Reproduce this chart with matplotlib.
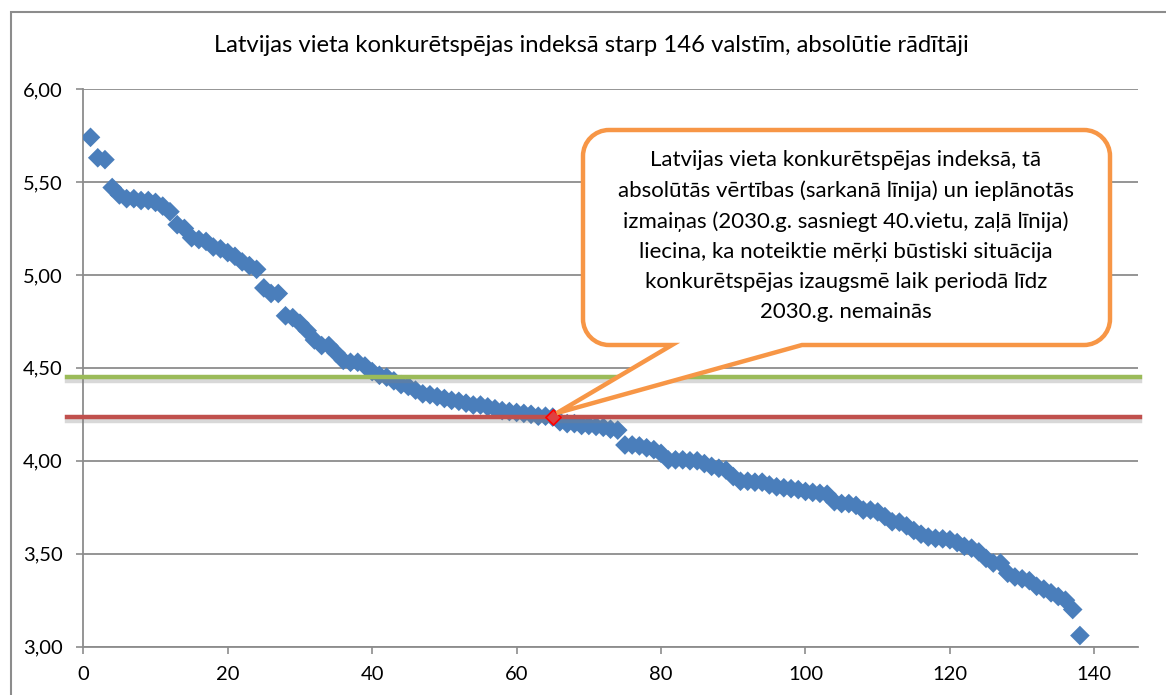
import matplotlib
matplotlib.use("Agg")
import matplotlib.pyplot as plt
import matplotlib.patheffects as pe
from matplotlib.path import Path
from matplotlib.patches import PathPatch, Rectangle
from matplotlib.transforms import IdentityTransform
from matplotlib.ticker import FuncFormatter
import numpy as np

plt.rcParams["font.family"] = ["Lato", "DejaVu Sans"]

# index values of countries, sorted (rank 1..138)
ranks = list(range(1, 139))
index_values = [
    5.74, 5.63, 5.62, 5.47, 5.43, 5.41, 5.41, 5.40, 5.40, 5.39,
    5.37, 5.34, 5.27, 5.25, 5.20, 5.19, 5.18, 5.15, 5.14, 5.12,
    5.10, 5.07, 5.05, 5.03, 4.93, 4.90, 4.90, 4.78, 4.77, 4.74,
    4.70, 4.65, 4.62, 4.62, 4.58, 4.54, 4.53, 4.53, 4.51, 4.48,
    4.46, 4.45, 4.43, 4.41, 4.40, 4.38, 4.36, 4.355, 4.345, 4.335,
    4.325, 4.32, 4.31, 4.30, 4.30, 4.29, 4.28, 4.27, 4.265, 4.26,
    4.255, 4.25, 4.24, 4.24, 4.235, 4.21, 4.20, 4.20, 4.19, 4.19,
    4.185, 4.18, 4.17, 4.165, 4.085, 4.085, 4.08, 4.07, 4.06, 4.04,
    4.005, 4.005, 4.005, 4.00, 4.00, 3.985, 3.97, 3.96, 3.95, 3.915,
    3.89, 3.89, 3.885, 3.885, 3.87, 3.86, 3.855, 3.85, 3.845, 3.835,
    3.83, 3.825, 3.82, 3.78, 3.77, 3.77, 3.76, 3.735, 3.735, 3.725,
    3.70, 3.672, 3.67, 3.65, 3.625, 3.605, 3.59, 3.583, 3.58, 3.575,
    3.56, 3.54, 3.53, 3.51, 3.475, 3.45, 3.45, 3.395, 3.375, 3.365,
    3.355, 3.325, 3.31, 3.29, 3.27, 3.25, 3.20, 3.06,
]
latvia_rank = 65
latvia_value = 4.235   # red line
target_value = 4.45    # green line (40th place in 2030)

title = "Latvijas vieta konkurētspējas indeksā starp 146 valstīm, absolūtie rādītāji"
note = ("Latvijas vieta konkurētspējas indeksā, tā\n"
        "absolūtās vērtības (sarkanā līnija) un ieplānotās\n"
        "izmaiņas (2030.g. sasniegt 40.vietu, zaļā līnija)\n"
        "liecina, ka noteiktie mērķi būstiski situācija\n"
        "konkurētspējas izaugsmē laik periodā līdz\n"
        "2030.g. nemainās")

W, H = 1166, 695
fig = plt.figure(figsize=(W / 100, H / 100), dpi=100)
ax = fig.add_axes([83.3 / W, 1 - 646.7 / H, (1137.7 - 83.3) / W, (646.7 - 89) / H])

# outer chart frame (runs off the right and bottom edge)
fig.patches.append(Rectangle((11 / W, -0.05), 1.2, 1 - 12 / H + 0.05,
                             transform=fig.transFigure, fill=False,
                             edgecolor="#8c8c8c", linewidth=1.5))

grey = "#8c8c8c"
ax.scatter(ranks, index_values, marker="D", s=100, color="#4a7ebb",
           edgecolors="none", zorder=3)

shadow = [pe.SimpleLineShadow(offset=(0, -2.5), shadow_color="gray", alpha=0.3),
          pe.Normal()]
ax.axhline(target_value, xmin=-0.015, xmax=1.002, color="#9bbb59", linewidth=3.2,
           clip_on=False, zorder=4, path_effects=shadow)
ax.axhline(latvia_value, xmin=-0.015, xmax=1.002, color="#c0504d", linewidth=3.2,
           clip_on=False, zorder=4, path_effects=shadow)

ax.scatter([latvia_rank], [index_values[latvia_rank - 1]], marker="D", s=60,
           color="#e04040", edgecolors="#ff0000", linewidth=1.2, zorder=5)

ax.set_xlim(0, 146)
ax.set_ylim(3.0, 6.0)
ax.set_xticks(np.arange(0, 141, 20))
ax.set_yticks(np.arange(3.0, 6.01, 0.5))
ax.yaxis.set_major_formatter(FuncFormatter(lambda v, p: f"{v:.2f}".replace(".", ",")))
ax.grid(axis="y", color=grey, linewidth=1.3)
ax.set_axisbelow(True)
for side in ["top", "right"]:
    ax.spines[side].set_visible(False)
for side in ["left", "bottom"]:
    ax.spines[side].set_color(grey)
    ax.spines[side].set_linewidth(1.3)
ax.tick_params(axis="both", direction="out", color=grey, width=1.2,
               labelsize=14.5, labelcolor="black")
ax.tick_params(axis="y", length=5, pad=10)
ax.tick_params(axis="x", length=5, pad=9)

fig.text(591 / W, 1 - 45 / H, title, ha="center", va="center", fontsize=17.2)

# callout bubble: rounded box with a pointer to Latvia's point (pixel coords)
fig.canvas.draw()
tip = ax.transData.transform((latvia_rank, index_values[latvia_rank - 1]))
L, R, T, B, r = 583, 1110, H - 130, H - 345, 26
k = 0.5523 * r
verts = [
    (L + r, B), (672, B), (tip[0] + 4, tip[1] + 4), (802, B), (R - r, B),
    (R - r + k, B), (R, B + r - k), (R, B + r),
    (R, T - r),
    (R, T - r + k), (R - r + k, T), (R - r, T),
    (L + r, T),
    (L + r - k, T), (L, T - r + k), (L, T - r),
    (L, B + r),
    (L, B + r - k), (L + r - k, B), (L + r, B),
    (L + r, B),
]
codes = ([Path.MOVETO] + [Path.LINETO] * 4 + [Path.CURVE4] * 3 + [Path.LINETO]
         + [Path.CURVE4] * 3 + [Path.LINETO] + [Path.CURVE4] * 3 + [Path.LINETO]
         + [Path.CURVE4] * 3 + [Path.CLOSEPOLY])
bubble = PathPatch(Path(verts, codes), transform=IdentityTransform(),
                   facecolor="white", edgecolor="#f79646", linewidth=3.2,
                   zorder=10, clip_on=False)
fig.patches.append(bubble)
fig.text(846 / W, 1 - 236 / H, note, ha="center", va="center", fontsize=16,
         linespacing=1.62, zorder=11)

fig.savefig("out.png", dpi=100)
